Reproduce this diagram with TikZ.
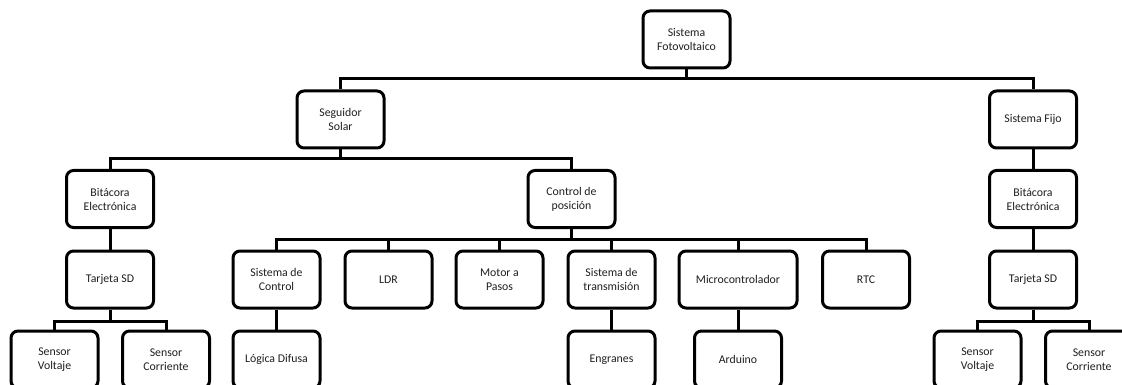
\documentclass[tikz,border=0pt]{standalone}
\usepackage{fontspec}
\setmainfont{Carlito}
\begin{document}
\begin{tikzpicture}[x=1pt,y=-1pt,
  blk/.style={draw=black, fill=white, line width=3pt, rounded corners=7pt,
    minimum width=87pt, minimum height=57pt, inner sep=2pt, align=center,
    text=black!88, font=\fontsize{11.8}{14}\selectfont},
  link/.style={draw=black, line width=3pt}]
\useasboundingbox (0,0) rectangle (1122,385);
\clip (0,0) rectangle (1122,385);

% boxes of the tree, level by level
\node[blk] (top) at (686.5,39.5) {Sistema\\Fotovoltaico};
\node[blk] (seg) at (340.5,119.5) {Seguidor\\Solar};
\node[blk] (fijo) at (1033,119.5) {Sistema Fijo};
\node[blk] (bitL) at (110,199) {Bitácora\\Electrónica};
\node[blk] (ctrl) at (571.5,199) {Control de\\posición};
\node[blk] (bitR) at (1033,199) {Bitácora\\Electrónica};
\node[blk] (sdL) at (110,279.5) {Tarjeta SD};
\node[blk] (sdR) at (1033,279.5) {Tarjeta SD};
\node[blk] (sc) at (276.5,279.5) {Sistema de\\Control};
\node[blk] (ldr) at (388.5,279.5) {LDR};
\node[blk] (mot) at (499.5,279.5) {Motor a\\Pasos};
\node[blk] (tra) at (611.5,279.5) {Sistema de\\transmisión};
\node[blk, minimum width=118pt] (mic) at (738,279.5) {Microcontrolador};
\node[blk] (rtc) at (866,279.5) {RTC};
\node[blk] (log) at (276.5,359.5) {Lógica Difusa};
\node[blk] (eng) at (611.5,359.5) {Engranes};
\node[blk] (ard) at (738,359.5) {Arduino};
\node[blk] (svL) at (54.5,359.5) {Sensor\\Voltaje};
\node[blk] (scL) at (166,359.5) {Sensor\\Corriente};
\node[blk] (svR) at (977.5,359.5) {Sensor\\Voltaje};
\node[blk] (scR) at (1089,359.5) {Sensor\\Corriente};

% heights of the horizontal buses
\coordinate (b1) at (0,79);
\coordinate (b2) at (0,159);
\coordinate (b3) at (0,239);
\coordinate (b4) at (0,321);

% connectors
\draw[link] (top.south) -- (top |- b1);
\draw[link] (seg.north) |- (fijo |- b1) -- (fijo.north);
\draw[link] (seg.south) -- (seg |- b2);
\draw[link] (bitL.north) |- (ctrl |- b2) -- (ctrl.north);
\draw[link] (fijo.south) -- (bitR.north);
\draw[link] (bitR.south) -- (sdR.north);
\draw[link] (bitL.south) -- (sdL.north);
\draw[link] (sdL.south) -- (sdL |- b4);
\draw[link] (svL.north) |- (scL |- b4) -- (scL.north);
\draw[link] (sdR.south) -- (sdR |- b4);
\draw[link] (svR.north) |- (scR |- b4) -- (scR.north);
\draw[link] (ctrl.south) -- (ctrl |- b3);
\draw[link] (sc.north) |- (rtc |- b3) -- (rtc.north);
\draw[link] (ldr.north) -- (ldr |- b3);
\draw[link] (mot.north) -- (mot |- b3);
\draw[link] (tra.north) -- (tra |- b3);
\draw[link] (mic.north) -- (mic |- b3);
\draw[link] (sc.south) -- (log.north);
\draw[link] (tra.south) -- (eng.north);
\draw[link] (mic.south) -- (ard.north);
\end{tikzpicture}
\end{document}
